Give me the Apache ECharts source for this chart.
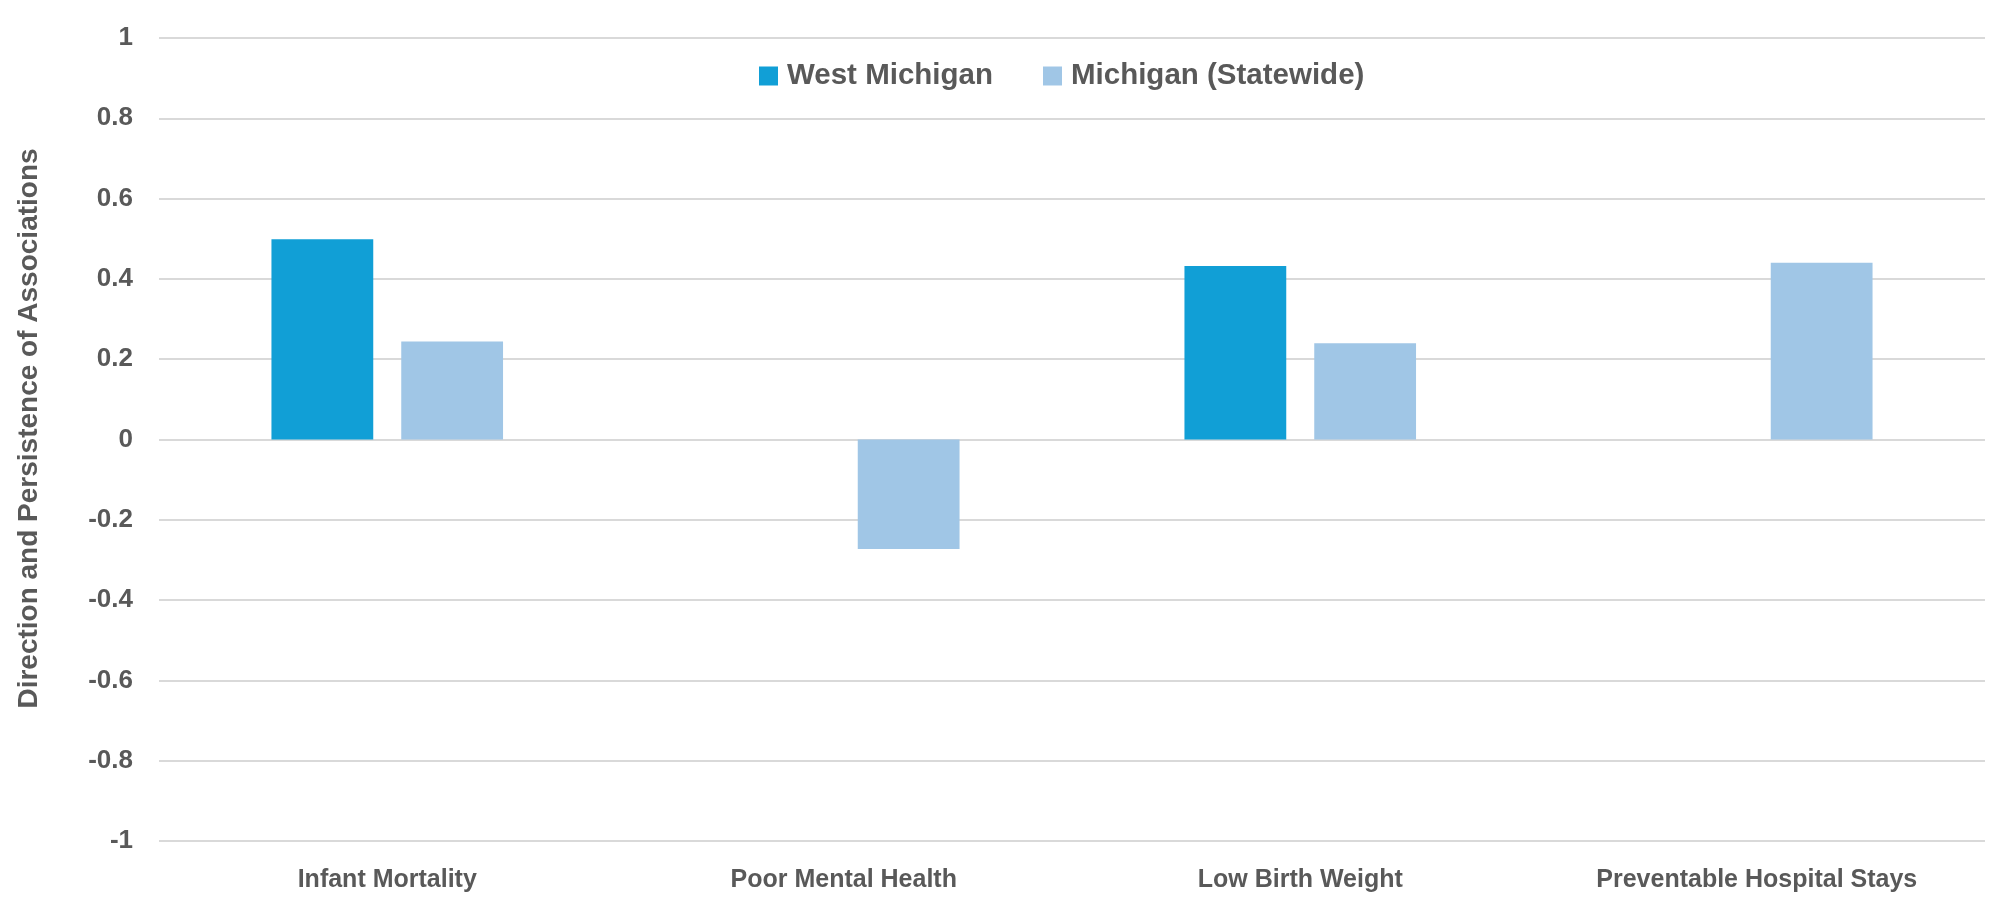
<!DOCTYPE html>
<html>
<head>
<meta charset="utf-8">
<script src="https://cdn.jsdelivr.net/npm/echarts@6/dist/echarts.min.js"></script>
<style>
html,body{margin:0;padding:0;background:#fff;}
#chart{width:2000px;height:913px;}
</style>
</head>
<body>
<div id="chart"></div>
<script>
const categories = ['Infant Mortality', 'Poor Mental Health', 'Low Birth Weight', 'Preventable Hospital Stays'];
const westMichigan = [0.499, 0, 0.432, 0];
const michiganStatewide = [0.244, -0.273, 0.240, 0.440];
const seriesNames = ['West Michigan', 'Michigan (Statewide)'];
const yAxisTitle = 'Direction and Persistence of Associations';

const textColor = '#595959';
const fontFam = '"Liberation Sans", Arial, sans-serif';

const chart = echarts.init(document.getElementById('chart'));
chart.setOption({
  animation: false,
  backgroundColor: '#ffffff',
  textStyle: { fontFamily: fontFam },
  legend: {
    data: seriesNames,
    left: 754,
    top: 56,
    itemWidth: 19,
    itemHeight: 19,
    itemGap: 50,
    icon: 'rect',
    textStyle: { color: textColor, fontSize: 29.5, fontWeight: 'bold', fontFamily: fontFam, padding: [0, 0, 0, 4] }
  },
  grid: { left: 159, right: 15, top: 38, bottom: 72, containLabel: false },
  xAxis: {
    type: 'category',
    data: categories,
    axisLine: { show: false, onZero: false },
    axisTick: { show: false },
    axisLabel: { color: textColor, fontSize: 25, fontWeight: 'bold', margin: 27, fontFamily: fontFam },
    splitLine: { show: false }
  },
  yAxis: {
    type: 'value',
    min: -1,
    max: 1,
    interval: 0.2,
    name: yAxisTitle,
    nameLocation: 'middle',
    nameGap: 116,
    nameTextStyle: { color: textColor, fontSize: 28, fontWeight: 'bold', fontFamily: fontFam, padding: [0, 0, 0, 22] },
    axisLine: { show: false },
    axisTick: { show: false },
    axisLabel: {
      color: textColor, fontSize: 26, fontWeight: 'bold', margin: 26, fontFamily: fontFam,
      formatter: v => String(Math.round(v * 10) / 10)
    },
    splitLine: { show: true, lineStyle: { color: '#d9d9d9', width: 2 } }
  },
  series: [
    {
      name: seriesNames[0],
      type: 'bar',
      data: westMichigan,
      barWidth: '22.3%',
      barGap: '27.5%',
      itemStyle: { color: '#119fd6' }
    },
    {
      name: seriesNames[1],
      type: 'bar',
      data: michiganStatewide,
      barWidth: '22.3%',
      barGap: '27.5%',
      itemStyle: { color: '#a0c6e6' }
    }
  ]
});
</script>
</body>
</html>
